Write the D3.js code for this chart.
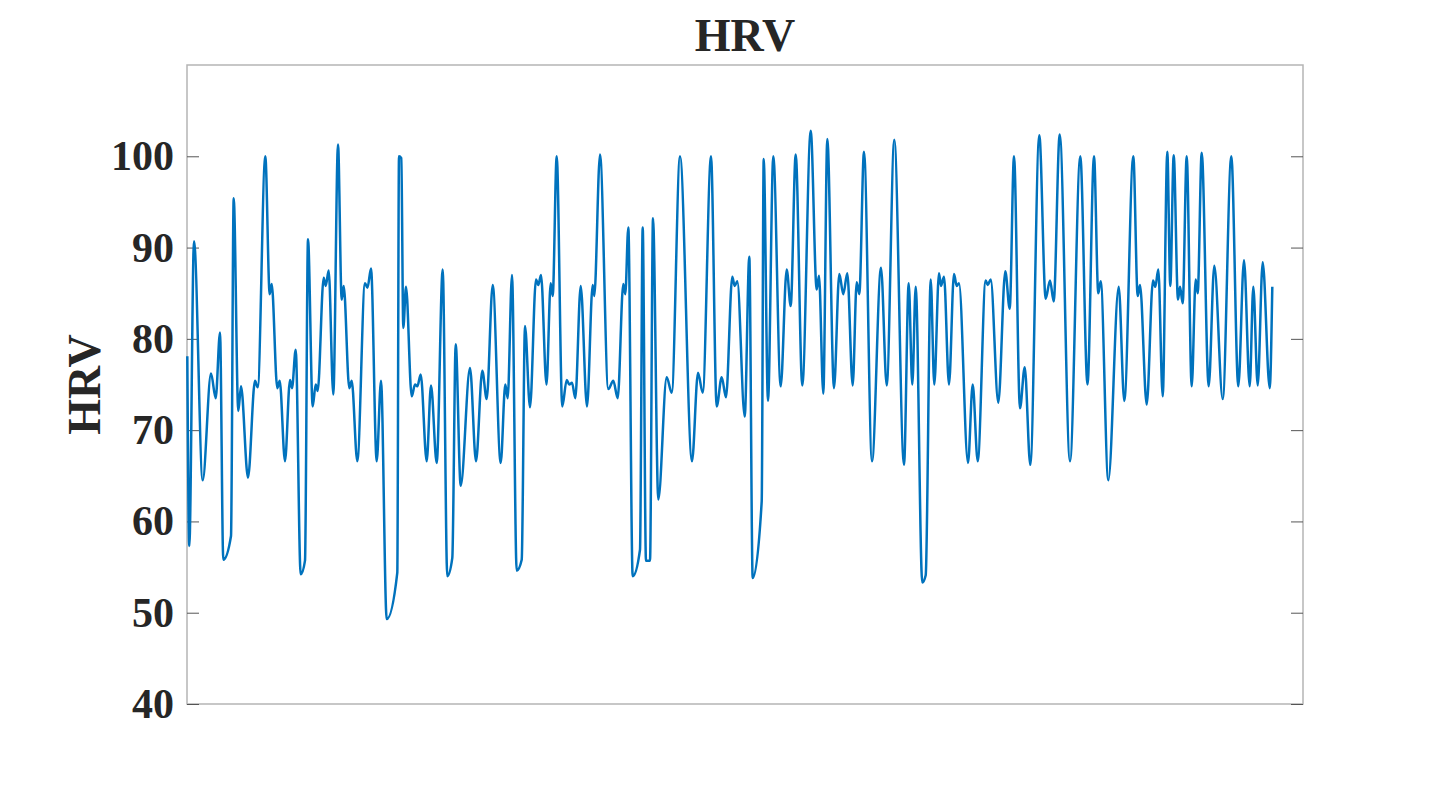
<!DOCTYPE html>
<html>
<head>
<meta charset="utf-8">
<script src="https://cdn.jsdelivr.net/npm/d3@7"></script>
<style>
  body { margin: 0; background: #fff; }
  svg text { font-family: "Liberation Serif", "Times New Roman", serif; font-weight: bold; fill: #262626; }
</style>
</head>
<body>
<svg id="screen" width="1440" height="791"></svg>
<script>
// sample index (x) and HRV value (y)
var beat = [
  0.3, 2.3, 7, 15.7, 24, 28.7, 33, 36.3, 44, 46.7, 51.3, 54, 61, 68, 70.7, 78.3, 82.7, 84.7, 90.3, 92.7,
  98, 103, 105, 108.7, 113.7, 118, 121, 125.7, 128.7, 130.7, 136.7, 138.7, 141.7, 146.3, 151, 154.7, 156.7, 162.3, 164.7, 170.3,
  178, 180.5, 184, 189.7, 194, 199.7, 210.3, 212, 214.3, 216.3, 219, 224.7, 228, 230.3, 233.7, 239.7, 244, 249.7, 255.7, 260.3,
  265.3, 268.7, 273.7, 283, 289, 295.3, 299.7, 305.7, 313.7, 318.3, 320.7, 325, 329.7, 334.7, 338, 343, 349, 351.3, 354, 359.5,
  363.7, 365.7, 369.7, 375.3, 379.7, 382.3, 385, 388.3, 393.7, 400, 405.7, 407.3, 413, 421.3, 426.3, 430.7, 436.3, 438.3, 441.3, 445.7,
  453, 455.7, 459, 463, 466, 471.3, 479.7, 484.7, 493, 505, 511, 515.7, 524, 529.7, 534.7, 539, 545.3, 547.7, 550.3, 557.7,
  562.3, 565.7, 574.7, 576.7, 581, 586.3, 593.7, 599.7, 603.7, 608.7, 615.3, 623.7, 629.7, 632, 636.3, 640.3, 647, 652.3, 656.3, 660.3,
  665.7, 669.7, 672.3, 677, 685, 694, 699.7, 707.3, 717, 721.7, 725.3, 728.7, 735.3, 738.7, 743.7, 747.3, 752, 754, 757, 762,
  767, 769.7, 772, 781, 785.7, 790.7, 798.7, 800.7, 803.7, 811.3, 818.3, 822.7, 827, 833, 837.7, 843.3, 852.3, 858.7, 863, 866.7,
  872.7, 883, 893.3, 900.5, 907, 911.3, 913.7, 921.3, 931.7, 937.3, 946.3, 950.7, 953, 959.7, 966, 968.3, 971.3, 975.7, 980.3, 983.3,
  986.7, 991, 993, 995.7, 999.7, 1004.7, 1008.7, 1010.7, 1014.7, 1021.7, 1027.3, 1035.7, 1044.3, 1051.3, 1057, 1062.7, 1066.3, 1070.7, 1075.7, 1082.7,
  1085.3
];
var hrv = [
  78.1, 57.3, 90.7, 64.5, 76.2, 73.5, 80.7, 55.8, 58.4, 95.4, 72.1, 74.8, 64.8, 75.4, 74.7, 100, 84.9, 86, 74.6, 75.4,
  66.6, 75.5, 74.6, 78.8, 54.2, 55.7, 90.9, 72.6, 75, 74.3, 86.7, 85.8, 87.5, 73.9, 101.3, 84.3, 85.8, 74.6, 75.4, 66.6,
  86.1, 85.6, 87.7, 66.6, 75.4, 49.3, 54.4, 100, 99.8, 81.2, 85.7, 73.7, 75, 74.8, 76.1, 66.6, 74.9, 66.4, 87.6, 54,
  56, 79.4, 63.9, 76.8, 66.6, 76.5, 73.4, 85.9, 66.4, 75, 73.5, 87, 54.6, 55.8, 81.4, 72.5, 86.5, 85.9, 87, 75,
  86.1, 84.7, 100, 72.6, 75.5, 75, 75.2, 73.5, 85.8, 72.6, 85.9, 84.7, 100.2, 74.5, 75.4, 73.5, 86, 84.9, 92.2, 54,
  56.9, 92.2, 55.7, 55.7, 93.2, 62.4, 75.8, 74.1, 100, 66.6, 76.3, 74.1, 100, 72.6, 75.8, 73.6, 86.8, 85.8, 86.3, 71.5,
  89, 53.8, 62.2, 99.7, 73.2, 100, 74.8, 87.6, 83.6, 100.2, 74.9, 102.8, 85.4, 86.9, 74, 101.9, 74.6, 87.1, 84.9, 87.2,
  74.9, 86.2, 84.9, 100.5, 66.6, 87.8, 74.9, 101.8, 66.2, 86.1, 75, 85.7, 53.3, 54.1, 86.5, 75, 87.2, 85.8, 86.8, 75,
  87.1, 85.8, 86.1, 66.4, 75, 66.6, 86.4, 85.9, 86.5, 73, 87.4, 83.3, 100, 72.4, 76.9, 66.2, 102.3, 84.4, 86.4, 84.1,
  102.4, 66.6, 100, 75, 100, 85, 86.3, 64.5, 85.7, 73.2, 100, 84.7, 85.9, 72.8, 86.4, 85.7, 87.6, 73.7, 100.5, 85.8,
  100.1, 84.3, 85.7, 83.9, 100, 74.8, 86.5, 85, 100.4, 74.8, 88, 73.4, 100, 74.8, 88.6, 74.8, 85.7, 74.9, 88.4, 74.6,
  85.7
];
var yTicks = [40, 50, 60, 70, 80, 90, 100];
var xRange = [0, 1116];
var yRange = [40, 110];

var margin = {left: 187, right: 137, top: 65, bottom: 87};
var svg = d3.select("#screen");
var W = +svg.attr("width") - margin.left - margin.right;
var H = +svg.attr("height") - margin.top - margin.bottom;

var x = d3.scaleLinear().domain(xRange).range([0, W]);
var y = d3.scaleLinear().domain(yRange).range([H, 0]);

var g = svg.append("g").attr("transform", "translate(" + margin.left + "," + margin.top + ")");

// box
g.append("rect")
  .attr("width", W).attr("height", H)
  .attr("fill", "none").attr("stroke", "#b5b5b5").attr("stroke-width", 1.5);

// left axis with labels, ticks pointing inward
var yl = g.append("g").call(d3.axisLeft(y).tickValues(yTicks).tickSize(-12).tickPadding(13));
yl.select(".domain").remove();
yl.selectAll(".tick line").attr("stroke", "#555");
yl.selectAll(".tick text")
  .attr("font-size", 42)
  .attr("font-family", "'Liberation Serif', 'Times New Roman', serif")
  .attr("font-weight", "bold")
  .attr("fill", "#262626");

// right side ticks
var yr = g.append("g").attr("transform", "translate(" + W + ",0)")
  .call(d3.axisRight(y).tickValues(yTicks).tickSize(-12).tickFormat(""));
yr.select(".domain").remove();
yr.selectAll(".tick line").attr("stroke", "#555");

// the HRV series
var pts = beat.map(function(b, i){ return [b, hrv[i]]; });
var line = d3.line()
  .x(function(d){ return x(d[0]); })
  .y(function(d){ return y(d[1]); })
  .curve(d3.curveMonotoneX);

g.append("path")
  .datum(pts)
  .attr("d", line)
  .attr("fill", "none")
  .attr("stroke", "#0072BD")
  .attr("stroke-width", 2.5)
  .attr("stroke-linejoin", "round");

// title and y label
svg.append("text")
  .attr("x", margin.left + W / 2).attr("y", 51)
  .attr("text-anchor", "middle")
  .attr("font-size", 46)
  .attr("fill", "#000")
  .text("HRV");

svg.append("text")
  .attr("transform", "translate(100," + (margin.top + y(75)) + ") rotate(-90)")
  .attr("text-anchor", "middle")
  .attr("font-size", 46)
  .text("HRV");
</script>
</body>
</html>
